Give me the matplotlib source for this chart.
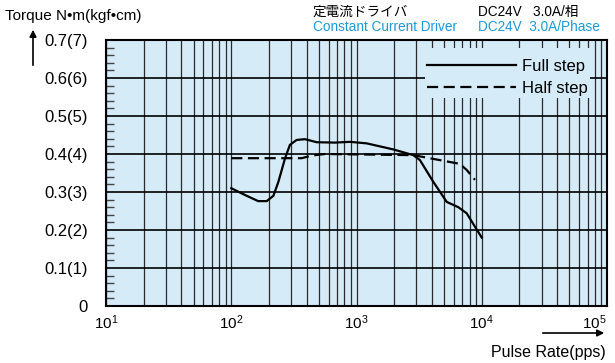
import matplotlib.pyplot as plt
import numpy as np
from matplotlib.patches import Rectangle

plt.rcParams['font.family'] = ['Liberation Sans', 'Noto Sans CJK JP', 'DejaVu Sans']
plt.rcParams['mathtext.fontset'] = 'custom'
plt.rcParams['mathtext.rm'] = 'Liberation Sans'
plt.rcParams['mathtext.it'] = 'Liberation Sans'

# torque curves (pps, N·m)
full_freq = [100, 129, 164, 192, 217, 238, 269, 294, 333, 388, 481, 673, 887, 1205,
             1970, 2840, 3210, 4100, 5250, 6500, 7580, 10000]
full_torque = [0.31, 0.292, 0.276, 0.276, 0.29, 0.327, 0.389, 0.424, 0.437, 0.439,
               0.431, 0.43, 0.432, 0.428, 0.412, 0.397, 0.384, 0.327, 0.274, 0.26,
               0.244, 0.18]
half_freq = [100, 366, 439, 561, 2840, 6700, 7580, 8830]
half_torque = [0.389, 0.389, 0.396, 0.40, 0.397, 0.374, 0.358, 0.332]

y_ticks = [0, 0.1, 0.2, 0.3, 0.4, 0.5, 0.6, 0.7]
y_labels = ['0', '0.1(1)', '0.2(2)', '0.3(3)', '0.4(4)', '0.5(5)', '0.6(6)', '0.7(7)']
x_ticks = [1e1, 1e2, 1e3, 1e4, 1e5]
x_labels = ['$10^{1}$', '$10^{2}$', '$10^{3}$', '$10^{4}$', '$10^{5}$']

bg = '#d5ebf8'
blue = '#1a9ad8'

fig = plt.figure(figsize=(6.15, 3.63), dpi=100)
ax = fig.add_axes([106 / 615, 57 / 363, 501 / 615, 266 / 363])
ax.set_facecolor(bg)
ax.set_xscale('log')
ax.set_xlim(1e1, 1e5)
ax.set_ylim(0, 0.7)

#grid: every decade step vertically, only major torque lines horizontally
for dec in [1e1, 1e2, 1e3, 1e4]:
    for m in range(1, 10):
        ax.axvline(dec * m, color='#2a2a2a', lw=0.9, zorder=1)
for yv in y_ticks:
    ax.axhline(yv, color='black', lw=1.2, zorder=1)

ax.set_yticks(y_ticks)
ax.set_yticklabels(y_labels, fontsize=12)
ax.set_yticks(np.arange(0, 0.7, 0.02), minor=True)
ax.tick_params(axis='y', which='major', length=0, pad=13)
ax.tick_params(axis='y', which='minor', direction='in', length=6, width=1, color='#444444')
ax.set_xticks(x_ticks)
ax.set_xticklabels(x_labels, fontsize=11)
ax.get_xticklabels()[-1].set_horizontalalignment('right')
ax.set_xticks([], minor=True)
ax.tick_params(axis='x', which='major', length=0, pad=5)
for s in ax.spines.values():
    s.set_linewidth(1.5)

#legend area hides the grid
ax.add_patch(Rectangle((0.637, 0.782), 0.329, 0.188, transform=ax.transAxes,
                       facecolor=bg, edgecolor='none', zorder=2))

ax.plot(full_freq, full_torque, color='black', lw=1.6, zorder=3, label='Full step')
ax.plot(half_freq, half_torque, color='black', lw=1.6, ls=(0, (5, 2.5)), zorder=3,
        label='Half step')

leg = ax.legend(loc='center', bbox_to_anchor=(0.637, 0.765, 0.329, 0.188),
                frameon=False, fontsize=12, handlelength=5.3, handletextpad=0.4,
                labelspacing=0.4, borderpad=0.2)
leg.set_zorder(4)

fig.text(5 / 615, 1 - 16 / 363, 'Torque N•m(kgf•cm)', fontsize=11, va='center', ha='left')
fig.text(313 / 615, 1 - 12 / 363, '定電流ドライバ', fontsize=9.8, va='center', ha='left')
fig.text(478 / 615, 1 - 12 / 363, 'DC24V   3.0A/相', fontsize=9.8, va='center', ha='left')
fig.text(313 / 615, 1 - 27 / 363, 'Constant Current Driver', fontsize=9.8, va='center',
         ha='left', color=blue)
fig.text(478 / 615, 1 - 27 / 363, 'DC24V  3.0A/Phase', fontsize=9.8, va='center',
         ha='left', color=blue)
fig.text(606 / 615, 1 - 352 / 363, 'Pulse Rate(pps)', fontsize=11.5, va='center', ha='right')

#axis arrows
ax.annotate('', xy=(33, 363 - 27), xytext=(33, 363 - 68), xycoords='figure pixels',
            textcoords='figure pixels',
            arrowprops=dict(arrowstyle='-|>', color='black', lw=1.2, mutation_scale=10))
ax.annotate('', xy=(607, 363 - 333), xytext=(540, 363 - 333), xycoords='figure pixels',
            textcoords='figure pixels',
            arrowprops=dict(arrowstyle='-|>', color='black', lw=1.2, mutation_scale=10))

fig.savefig('out.png', dpi=100)
